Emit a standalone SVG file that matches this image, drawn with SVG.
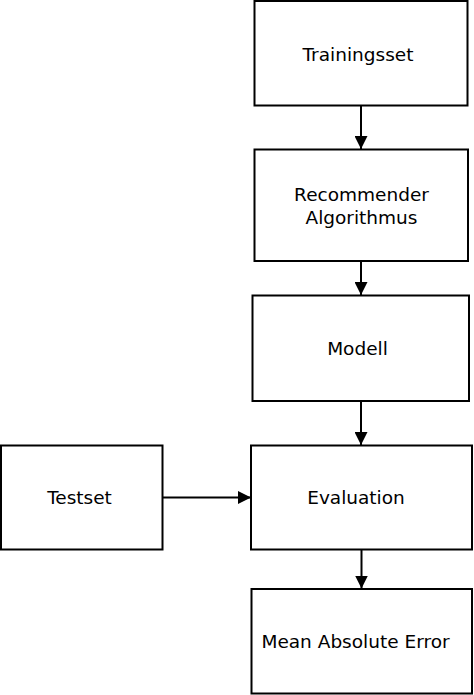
<svg xmlns="http://www.w3.org/2000/svg" width="474" height="695" viewBox="0 0 474 695">
<style>
.box{fill:#fff;stroke:#000;stroke-width:2}
.lbl{font-family:"DejaVu Sans",sans-serif;font-size:18.5px;fill:#000;text-anchor:middle}
.edge{stroke:#000;stroke-width:2;fill:none}
</style>
<defs>
<marker id="ah" markerUnits="userSpaceOnUse" markerWidth="13" markerHeight="13" viewBox="0 0 12 12" refX="12" refY="6" orient="auto">
<path d="M0,0 L12,6 L0,12 Z" fill="#000"/>
</marker>
</defs>
<rect width="474" height="695" fill="#fff"/>
<g id="connectors">
<path class="edge" d="M361,105 L361,149" marker-end="url(#ah)"/>
<path class="edge" d="M361,261 L361,295" marker-end="url(#ah)"/>
<path class="edge" d="M361,401 L361,445" marker-end="url(#ah)"/>
<path class="edge" d="M361.5,549.5 L361.5,588.5" marker-end="url(#ah)"/>
<path class="edge" d="M163,497.5 L251,497.5" marker-end="url(#ah)"/>
</g>
<g id="trainingsset">
<rect class="box" x="254.5" y="1" width="213" height="104.5"/>
<text class="lbl" x="358" y="61">Trainingsset</text>
</g>
<g id="recommender">
<rect class="box" x="254.5" y="149.5" width="213.5" height="111.5"/>
<text class="lbl" x="361.5" y="200.5">Recommender</text>
<text class="lbl" x="361.5" y="223.5">Algorithmus</text>
</g>
<g id="modell">
<rect class="box" x="252.5" y="295.5" width="216.5" height="105.5"/>
<text class="lbl" x="357.5" y="355">Modell</text>
</g>
<g id="testset">
<rect class="box" x="1" y="445.5" width="161.5" height="104"/>
<text class="lbl" x="79.5" y="504">Testset</text>
</g>
<g id="evaluation">
<rect class="box" x="251" y="445.5" width="221" height="104"/>
<text class="lbl" x="356" y="504">Evaluation</text>
</g>
<g id="mae">
<rect class="box" x="251.5" y="589" width="220.5" height="104.5"/>
<text class="lbl" x="355.5" y="648">Mean Absolute Error</text>
</g>
</svg>
